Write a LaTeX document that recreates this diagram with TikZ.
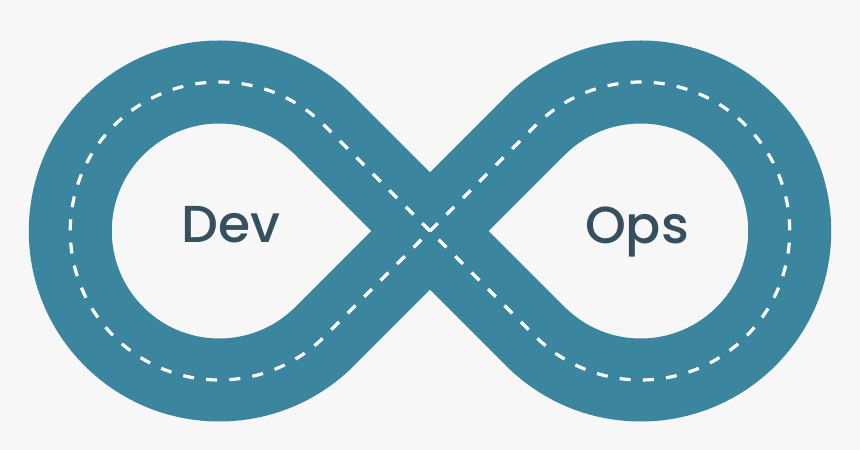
\documentclass[tikz,border=0pt]{standalone}
\usepackage{fontspec}
\setmainfont{Poppins}[UprightFont={* Medium}]
\usetikzlibrary{calc}
\definecolor{bgc}{HTML}{F7F7F7}
\definecolor{band}{HTML}{3B869E}
\definecolor{txt}{HTML}{37505F}
\begin{document}
\begin{tikzpicture}[x=1pt,y=1pt,
  bandline/.style={draw=band,line width=83pt,line join=miter},
  lane/.style={draw=white,line width=3.2pt,dash pattern=on 11pt off 12.26pt},
  label/.style={text=txt,font=\fontsize{52}{52}\selectfont,anchor=base,inner sep=0pt}]
\fill[bgc] (0,0) rectangle (860,450);
\useasboundingbox (0,0) rectangle (860,450);
\coordinate (X) at (430,219);
\coordinate (CL) at (219.28,219);
\coordinate (CR) at (640.72,219);
\coordinate (TL) at ($(CL)+(45:149pt)$);
\coordinate (BR) at ($(CR)+(225:149pt)$);
\coordinate (TR) at ($(CR)+(135:149pt)$);
\path[bandline] (X) -- (TL) arc[start angle=45,end angle=315,radius=149pt] -- (X) -- (BR) arc[start angle=225,end angle=495,radius=149pt] -- cycle;
\path[lane] (X) -- (TL) arc[start angle=45,end angle=315,radius=149pt] -- (X);
\path[lane] (X) -- (TR) arc[start angle=135,end angle=-135,radius=149pt] -- (X);
\node[label] (dev) at (231,207) {Dev};
\node[label] (ops) at (637,206) {Ops};
\end{tikzpicture}
\end{document}
